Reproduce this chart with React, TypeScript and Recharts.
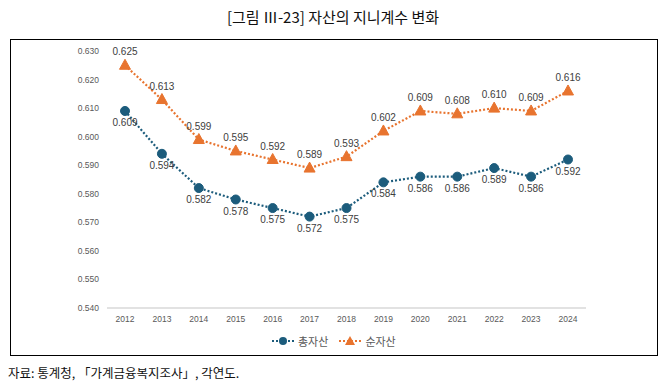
import React from "react";
import { LineChart, Line, XAxis, YAxis, LabelList } from "recharts";

const years = ["2012","2013","2014","2015","2016","2017","2018","2019","2020","2021","2022","2023","2024"];
const totalAssets = [0.609,0.594,0.582,0.578,0.575,0.572,0.575,0.584,0.586,0.586,0.589,0.586,0.592];
const netAssets = [0.625,0.613,0.599,0.595,0.592,0.589,0.593,0.602,0.609,0.608,0.610,0.609,0.616];
const yTicks = [0.54,0.55,0.56,0.57,0.58,0.59,0.6,0.61,0.62,0.63];

const data = years.map((y, i) => ({ year: y, total: totalAssets[i], net: netAssets[i] }));

const BLUE = "#1C5C7C";
const ORANGE = "#E8742F";

const Triangle = (props: any) => {
  const { cx, cy } = props;
  if (cx == null || cy == null) return null;
  return <path d={`M${cx},${cy - 6} L${cx + 5.5},${cy + 4} L${cx - 5.5},${cy + 4} Z`} fill={ORANGE} stroke={ORANGE} strokeWidth={1} />;
};

const fmt = (v: any) => Number(v).toFixed(3);

export default function App() {
  return (
    <div style={{ position: "absolute", left: 0, top: 0, width: 666, height: 386, background: "#fff", fontFamily: "'Noto Sans CJK KR', 'Noto Sans', sans-serif" }}>
      <div style={{ position: "absolute", left: 0, top: 6, width: 666, textAlign: "center", fontSize: 15, color: "#111", lineHeight: "22px" }}>
        [그림 Ⅲ-23] 자산의 지니계수 변화
      </div>
      <div style={{ position: "absolute", left: 10, top: 39, width: 648, height: 317, border: "1.5px solid #000", boxSizing: "border-box" }} />
      <div style={{ position: "absolute", left: 0, top: 0 }}>
        <LineChart width={666} height={386} data={data} margin={{ top: 51, right: 80, left: 47, bottom: 48 }}>
          <XAxis dataKey="year" axisLine={{ stroke: "#D9D9D9", strokeWidth: 1.5 }} tickLine={false} height={30}
            padding={{ left: 18, right: 18 }}
            tick={{ fontSize: 8.5, fill: "#595959", fontFamily: "Arial, 'Liberation Sans', sans-serif" }} interval={0} />
          <YAxis domain={[0.54, 0.63]} ticks={yTicks} width={60} axisLine={false} tickLine={false}
            tickFormatter={fmt} tick={{ fontSize: 8.5, fill: "#595959", fontFamily: "Arial, 'Liberation Sans', sans-serif" }} />
          <Line dataKey="total" stroke={BLUE} strokeWidth={2.2} strokeDasharray="2 2" isAnimationActive={false}
            dot={{ r: 4.5, fill: BLUE, stroke: BLUE, strokeWidth: 1, strokeDasharray: "" }}>
            <LabelList dataKey="total" position="bottom" offset={8} formatter={fmt}
              style={{ fontSize: 10, fill: "#404040", fontFamily: "Arial, 'Liberation Sans', sans-serif" }} />
          </Line>
          <Line dataKey="net" stroke={ORANGE} strokeWidth={2.2} strokeDasharray="2 2" isAnimationActive={false}
            dot={<Triangle />}>
            <LabelList dataKey="net" position="top" offset={10} formatter={fmt}
              style={{ fontSize: 10, fill: "#404040", fontFamily: "Arial, 'Liberation Sans', sans-serif" }} />
          </Line>
        </LineChart>
      </div>
      <div style={{ position: "absolute", left: 271, top: 332, display: "flex", alignItems: "center", fontSize: 11, color: "#595959", lineHeight: "18px" }}>
        <svg width={24} height={12} style={{ marginRight: 3 }}>
          <line x1={1} y1={6} x2={23} y2={6} stroke={BLUE} strokeWidth={2.2} strokeDasharray="2 2" />
          <circle cx={12} cy={6} r={4} fill={BLUE} />
        </svg>
        <span style={{ marginRight: 10 }}>총자산</span>
        <svg width={24} height={12} style={{ marginRight: 3 }}>
          <line x1={1} y1={6} x2={23} y2={6} stroke={ORANGE} strokeWidth={2.2} strokeDasharray="2 2" />
          <path d="M12,1 L17,10 L7,10 Z" fill={ORANGE} />
        </svg>
        <span>순자산</span>
      </div>
      <div style={{ position: "absolute", left: 8, top: 364, fontSize: 12.5, color: "#111", lineHeight: "18px" }}>
        자료: 통계청, 「가계금융복지조사」, 각연도.
      </div>
    </div>
  );
}
